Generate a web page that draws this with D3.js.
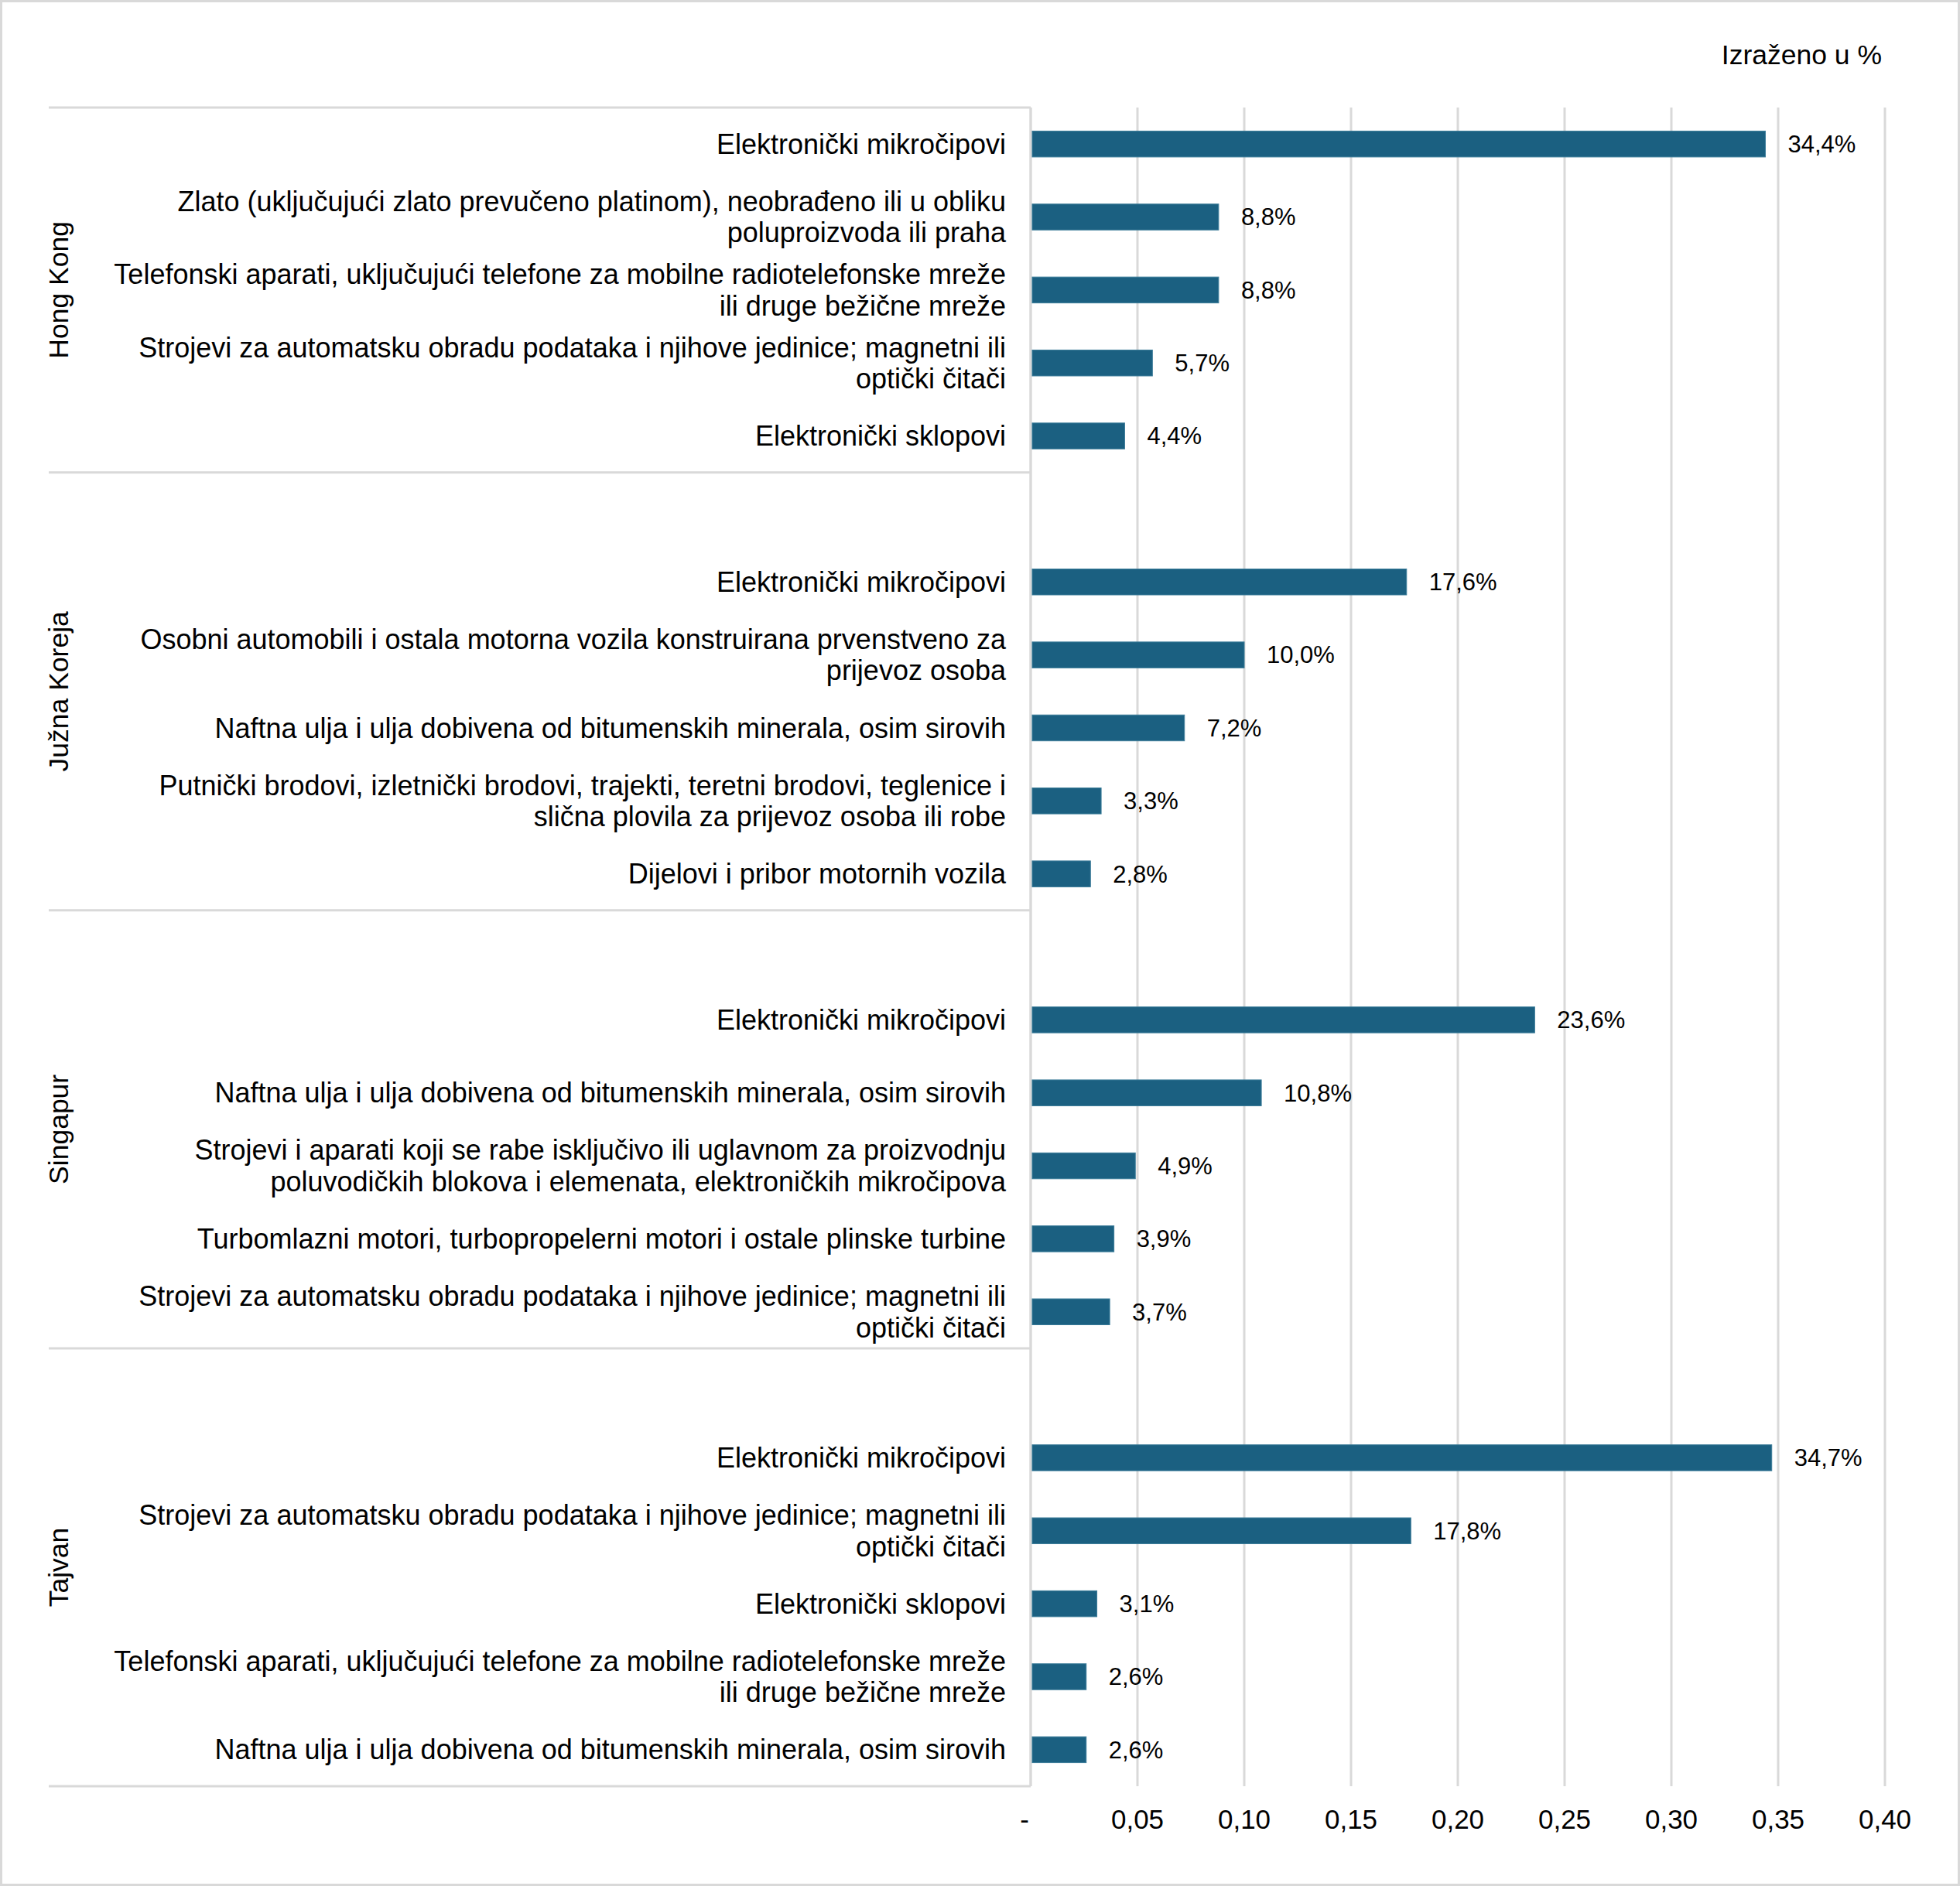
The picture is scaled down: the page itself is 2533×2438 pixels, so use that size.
<!DOCTYPE html>
<html>
<head>
<meta charset="utf-8">
<script src="https://cdn.jsdelivr.net/npm/d3@7"></script>
<style>
  body { margin: 0; background: #fff; }
  text { font-family: "Liberation Sans", Arial, sans-serif; fill: #000; }
</style>
</head>
<body>
<div id="chart"></div>
<script>
// data
const groups = ['Hong Kong', 'Južna Koreja', 'Singapur', 'Tajvan'];

const hongKongLabels = [
  ['Elektronički mikročipovi'],
  ['Zlato (uključujući zlato prevučeno platinom), neobrađeno ili u obliku', 'poluproizvoda ili praha'],
  ['Telefonski aparati, uključujući telefone za mobilne radiotelefonske mreže', 'ili druge bežične mreže'],
  ['Strojevi za automatsku obradu podataka i njihove jedinice; magnetni ili', 'optički čitači'],
  ['Elektronički sklopovi']
];
const hongKongValues = [0.344, 0.088, 0.088, 0.057, 0.044];

const korejaLabels = [
  ['Elektronički mikročipovi'],
  ['Osobni automobili i ostala motorna vozila konstruirana prvenstveno za', 'prijevoz osoba'],
  ['Naftna ulja i ulja dobivena od bitumenskih minerala, osim sirovih'],
  ['Putnički brodovi, izletnički brodovi, trajekti, teretni brodovi, teglenice i', 'slična plovila za prijevoz osoba ili robe'],
  ['Dijelovi i pribor motornih vozila']
];
const korejaValues = [0.176, 0.100, 0.072, 0.033, 0.028];

const singapurLabels = [
  ['Elektronički mikročipovi'],
  ['Naftna ulja i ulja dobivena od bitumenskih minerala, osim sirovih'],
  ['Strojevi i aparati koji se rabe isključivo ili uglavnom za proizvodnju', 'poluvodičkih blokova i elemenata, elektroničkih mikročipova'],
  ['Turbomlazni motori, turbopropelerni motori i ostale plinske turbine'],
  ['Strojevi za automatsku obradu podataka i njihove jedinice; magnetni ili', 'optički čitači']
];
const singapurValues = [0.236, 0.108, 0.049, 0.039, 0.037];

const tajvanLabels = [
  ['Elektronički mikročipovi'],
  ['Strojevi za automatsku obradu podataka i njihove jedinice; magnetni ili', 'optički čitači'],
  ['Elektronički sklopovi'],
  ['Telefonski aparati, uključujući telefone za mobilne radiotelefonske mreže', 'ili druge bežične mreže'],
  ['Naftna ulja i ulja dobivena od bitumenskih minerala, osim sirovih']
];
const tajvanValues = [0.347, 0.178, 0.031, 0.026, 0.026];

const xTicks = [0, 0.05, 0.10, 0.15, 0.20, 0.25, 0.30, 0.35, 0.40];
const unitLabel = 'Izraženo u %';

// layout
const width = 2533;
const height = 2438;
const plotLeft = 1332;
const plotRight = 2436;
const plotTop = 139;
const plotBottom = 2309;
const groupLeft = 63;
const grey = '#d9d9d9';
const barColor = '#1b6081';

const allLabels = [hongKongLabels, korejaLabels, singapurLabels, tajvanLabels];
const allValues = [hongKongValues, korejaValues, singapurValues, tajvanValues];

// one row per slot, each group after the first starts with an empty slot
const rows = [];
groups.forEach((g, gi) => {
  if (gi > 0) rows.push({ id: g + '-blank', group: gi, blank: true });
  allValues[gi].forEach((v, i) => {
    rows.push({ id: g + '-' + i, group: gi, value: v, label: allLabels[gi][i] });
  });
});

const svg = d3.select('#chart').append('svg')
  .attr('width', width)
  .attr('height', height);

svg.append('rect')
  .attr('x', 1.5).attr('y', 1.5)
  .attr('width', width - 3).attr('height', height - 3)
  .attr('fill', '#fff')
  .attr('stroke', grey)
  .attr('stroke-width', 3);

const scaleX = d3.scaleLinear().domain([0, 0.4]).range([plotLeft, plotRight]);
const scaleY = d3.scaleBand().domain(rows.map(d => d.id)).range([plotTop, plotBottom]);
const barH = scaleY.bandwidth() * 0.355;

// grid
svg.append('g').selectAll('line')
  .data(xTicks)
  .enter().append('line')
  .attr('x1', d => scaleX(d)).attr('x2', d => scaleX(d))
  .attr('y1', plotTop).attr('y2', plotBottom)
  .attr('stroke', grey)
  .attr('stroke-width', 3);

// tick labels
const fmt = d => d === 0 ? '-' : d3.format('.2f')(d).replace('.', ',');
svg.append('g').selectAll('text')
  .data(xTicks)
  .enter().append('text')
  .attr('x', d => d === 0 ? scaleX(d) - 8 : scaleX(d))
  .attr('y', 2352)
  .attr('dy', '0.35em')
  .attr('text-anchor', 'middle')
  .style('font-size', '35px')
  .text(fmt);

// group boundaries
const bounds = [plotTop];
groups.forEach((g, gi) => {
  const last = rows.filter(r => r.group === gi).slice(-1)[0];
  bounds.push(scaleY(last.id) + scaleY.bandwidth());
});

svg.append('g').selectAll('line')
  .data(bounds)
  .enter().append('line')
  .attr('x1', groupLeft).attr('x2', plotLeft)
  .attr('y1', d => d).attr('y2', d => d)
  .attr('stroke', grey)
  .attr('stroke-width', 3);

svg.append('line')
  .attr('x1', plotLeft).attr('x2', plotLeft)
  .attr('y1', plotTop).attr('y2', plotBottom)
  .attr('stroke', grey)
  .attr('stroke-width', 3);

// group labels
svg.append('g').selectAll('text')
  .data(groups)
  .enter().append('text')
  .attr('transform', (d, i) => `translate(88, ${(bounds[i] + bounds[i + 1]) / 2}) rotate(-90)`)
  .attr('text-anchor', 'middle')
  .style('font-size', '35.5px')
  .text(d => d);

const dataRows = rows.filter(r => !r.blank);

// bars
svg.append('g').selectAll('rect')
  .data(dataRows)
  .enter().append('rect')
  .attr('x', scaleX(0) + 2)
  .attr('y', d => scaleY(d.id) + scaleY.bandwidth() / 2 - barH / 2)
  .attr('width', d => scaleX(d.value) - scaleX(0) - 2)
  .attr('height', barH)
  .attr('fill', barColor)
  .attr('stroke', '#3b7c99')
  .attr('stroke-width', 1);

// value labels
svg.append('g').selectAll('text')
  .data(dataRows)
  .enter().append('text')
  .attr('x', d => scaleX(d.value) + 29)
  .attr('y', d => scaleY(d.id) + scaleY.bandwidth() / 2)
  .attr('dy', '0.35em')
  .style('font-size', '31px')
  .text(d => d3.format('.1f')(d.value * 100).replace('.', ',') + '%');

// category labels
const lineH = 40.5;
const catSize = 36;
const catText = svg.append('g').selectAll('text')
  .data(dataRows)
  .enter().append('text')
  .attr('text-anchor', 'end')
  .attr('y', d => scaleY(d.id) + scaleY.bandwidth() / 2)
  .style('font-size', catSize + 'px');

catText.selectAll('tspan')
  .data(d => d.label.map((t, i) => ({ t, i, n: d.label.length })))
  .enter().append('tspan')
  .attr('x', 1300)
  .attr('dy', d => d.i === 0 ? (0.35 * catSize - (d.n - 1) * lineH / 2) : lineH)
  .text(d => d.t);

// unit
svg.append('text')
  .attr('x', 2432)
  .attr('y', 71)
  .attr('dy', '0.35em')
  .attr('text-anchor', 'end')
  .style('font-size', '35.5px')
  .text(unitLabel);
</script>
</body>
</html>
